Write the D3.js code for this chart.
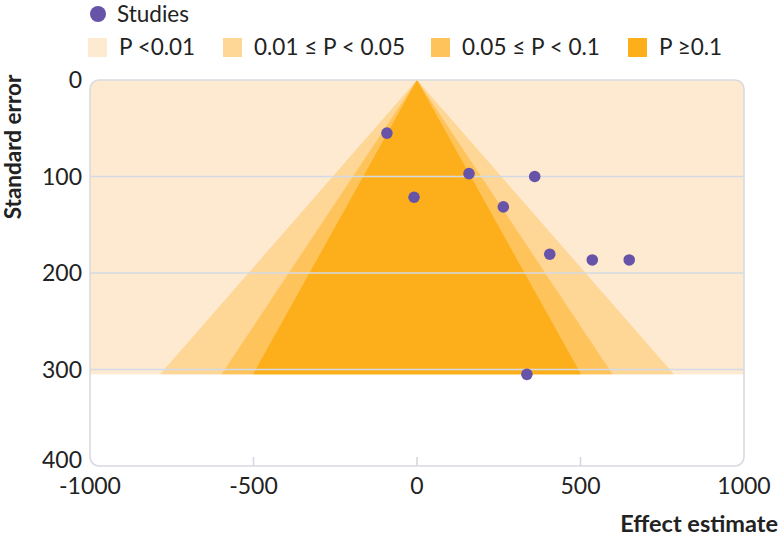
<!DOCTYPE html>
<html><head><meta charset="utf-8">
<script src="https://cdn.jsdelivr.net/npm/d3@7"></script>
<style>
body{margin:0;background:#fff;}
text{font-family:Lato,"Open Sans",sans-serif;fill:#222;}
</style></head>
<body><svg id="c" width="780" height="541"></svg>
<script>
const studyEffect = [-92, 159, 360, -9, 264, 406, 536, 649, 336];
const studySE     = [55, 97, 100, 121.5, 131.5, 180.5, 186.5, 186.5, 305];
const zBands = [2.576, 1.96, 1.645];
const bandLabels = ["P <0.01", "0.01 \u2264 P < 0.05", "0.05 \u2264 P < 0.1", "P \u22650.1"];
const bandColors = ["#feead0", "#fed695", "#fec35a", "#fcaf1a"];
const xTicks = [-1000, -500, 0, 500, 1000];
const yTicks = [0, 100, 200, 300, 400];

const svg = d3.select("#c");
const x = d3.scaleLinear().domain([-1000, 1000]).range([90, 744]);
const y = d3.scaleLinear().domain([0, 400]).range([80, 466]);
const seMax = d3.max(studySE);

const defs = svg.append("defs");
defs.append("clipPath").attr("id","clip").append("rect")
  .attr("x", x(-1000)).attr("y", y(0)).attr("width", x(1000)-x(-1000)).attr("height", y(400)-y(0)).attr("rx", 9);

const g = svg.append("g").attr("clip-path","url(#clip)");
g.append("rect").attr("x", x(-1000)).attr("y", y(0))
  .attr("width", x(1000)-x(-1000)).attr("height", y(seMax)-y(0)).attr("fill", bandColors[0]);
zBands.forEach((z,i)=>{
  g.append("path").attr("fill", bandColors[i+1])
   .attr("d", d3.line()([[x(0),y(0)],[x(-z*seMax),y(seMax)],[x(z*seMax),y(seMax)]]) + "Z");
});
// gridlines
g.selectAll("line.grid").data(yTicks.slice(1,-1)).join("line")
  .attr("x1", x(-1000)).attr("x2", x(1000)).attr("y1", d=>y(d)).attr("y2", d=>y(d))
  .attr("stroke","#d3dae5").attr("stroke-width",1.6);
// x ticks
g.selectAll("line.xt").data(xTicks.slice(1,-1)).join("line")
  .attr("x1", d=>x(d)).attr("x2", d=>x(d)).attr("y1", y(400)-9).attr("y2", y(400))
  .attr("stroke","#d3d6de").attr("stroke-width",1.5);
// border
svg.append("rect").attr("x", x(-1000)).attr("y", y(0)).attr("width", x(1000)-x(-1000)).attr("height", y(400)-y(0))
  .attr("rx", 9).attr("fill","none").attr("stroke","#d7dae2").attr("stroke-width",1.6);

// points
svg.selectAll("circle.pt").data(studyEffect.map((e,i)=>[e, studySE[i]])).join("circle")
  .attr("cx", d=>x(d[0])).attr("cy", d=>y(d[1])).attr("r", 5.8).attr("fill","#6753a8");

// axes labels
svg.selectAll("text.yt").data(yTicks).join("text")
  .attr("x", 82).attr("y", d=>y(d) - (d===400 ? 6 : 0)).attr("dy","0.36em").attr("text-anchor","end")
  .attr("font-size", 23).text(d=>d);
svg.selectAll("text.xt").data(xTicks).join("text")
  .attr("x", d=>x(d)).attr("y", 494).attr("text-anchor","middle")
  .attr("font-size", 23).text(d=>d);
svg.append("text").attr("transform","translate(21,147) rotate(-90)").attr("text-anchor","middle")
  .attr("font-size",22.5).attr("font-weight","bold").text("Standard error");
svg.append("text").attr("x",778).attr("y",532).attr("text-anchor","end")
  .attr("font-size",23.5).attr("font-weight","bold").text("Effect estimate");

// legend
svg.append("circle").attr("cx",98).attr("cy",14).attr("r",8).attr("fill","#6753a8");
svg.append("text").attr("x",117).attr("y",22).attr("font-size",22.5).text("Studies");
const lx = [88, 223, 431, 628];
bandLabels.forEach((t,i)=>{
  svg.append("rect").attr("x",lx[i]).attr("y",38).attr("width",19).attr("height",19).attr("fill",bandColors[i]);
  svg.append("text").attr("x",lx[i]+31).attr("y",55).attr("font-size",22.5).text(t);
});
</script></body></html>
